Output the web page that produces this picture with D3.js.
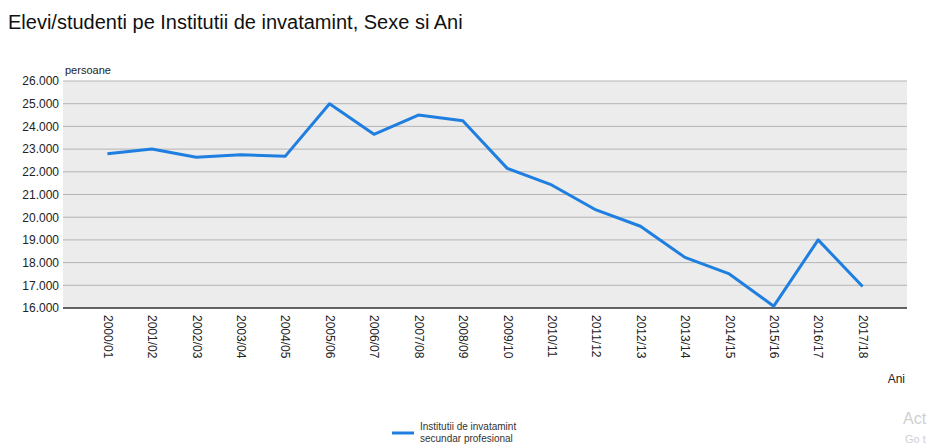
<!DOCTYPE html>
<html>
<head>
<meta charset="utf-8">
<script src="https://cdn.jsdelivr.net/npm/d3@7"></script>
<style>
  body { margin: 0; background: #fff; }
  svg { font-family: "Liberation Sans", Arial, sans-serif; }
</style>
</head>
<body>
<svg width="931" height="448"></svg>
<script>
var years = ["2000/01","2001/02","2002/03","2003/04","2004/05","2005/06","2006/07","2007/08","2008/09",
             "2009/10","2010/11","2011/12","2012/13","2013/14","2014/15","2015/16","2016/17","2017/18"];
var elevi = [22800, 23000, 22640, 22750, 22680, 25000, 23650, 24500, 24250,
             22150, 21420, 20320, 19600, 18230, 17500, 16080, 19000, 16950];
var yTicks = [16000,17000,18000,19000,20000,21000,22000,23000,24000,25000,26000];
var seriesName = ["Institutii de invatamint", "secundar profesional"];

var svg = d3.select("svg");
var plotLeft = 63, plotRight = 907, plotTop = 81, plotBottom = 308;

var x = d3.scalePoint().domain(years).range([plotLeft, plotRight]).padding(1);
var y = d3.scaleLinear().domain([16000, 26000]).range([plotBottom, plotTop]);
var fmt = function(d) { return d3.format(",")(d).replace(/,/g, "."); };

// title
svg.append("text").attr("x", 8).attr("y", 29)
   .style("font-size", "20px").style("fill", "#111")
   .text("Elevi/studenti pe Institutii de invatamint, Sexe si Ani");

// plot background
svg.append("rect").attr("x", plotLeft).attr("y", plotTop)
   .attr("width", plotRight - plotLeft).attr("height", plotBottom - plotTop)
   .style("fill", "#ececec");

// grid
svg.append("g").selectAll("line").data(yTicks.slice(1)).enter()
   .append("line")
     .attr("x1", plotLeft).attr("x2", plotRight)
     .attr("y1", function(d) { return y(d); }).attr("y2", function(d) { return y(d); })
     .style("stroke", "#b4b4b4").style("stroke-width", 1);

// y axis labels
var yAxis = svg.append("g").attr("transform", "translate(" + plotLeft + ",0)")
   .call(d3.axisLeft(y).tickValues(yTicks).tickFormat(fmt).tickSize(0).tickPadding(4));
yAxis.select(".domain").remove();
yAxis.selectAll("text").style("font-size", "12px").style("fill", "#222")
     .style("font-family", "'Liberation Sans', Arial, sans-serif");

svg.append("text").attr("x", 65).attr("y", 74)
   .style("font-size", "11px").style("fill", "#222").text("persoane");

// x axis
var xAxis = svg.append("g").attr("transform", "translate(0," + plotBottom + ")")
   .call(d3.axisBottom(x).tickSize(0).tickPadding(0));
xAxis.select(".domain").remove();
xAxis.selectAll("text")
     .attr("transform", "rotate(90)")
     .attr("x", 7).attr("y", 0).attr("dy", "0.35em")
     .style("text-anchor", "start")
     .style("font-size", "12px").style("fill", "#222")
     .style("font-family", "'Liberation Sans', Arial, sans-serif");

svg.append("line").attr("x1", plotLeft).attr("x2", plotRight)
   .attr("y1", plotBottom).attr("y2", plotBottom)
   .style("stroke", "#333").style("stroke-width", 1.5);

svg.append("text").attr("x", 905).attr("y", 383)
   .style("text-anchor", "end").style("font-size", "12px").style("fill", "#222")
   .text("Ani");

// line
var line = d3.line()
   .x(function(d, i) { return x(years[i]); })
   .y(function(d) { return y(d); });

svg.append("path").datum(elevi)
   .attr("d", line)
   .style("fill", "none")
   .style("stroke", "#1f7fe0")
   .style("stroke-width", 3)
   .style("stroke-linejoin", "round");

// legend
svg.append("line").attr("x1", 392).attr("x2", 414).attr("y1", 433).attr("y2", 433)
   .style("stroke", "#1f7fe0").style("stroke-width", 3);
svg.selectAll(".leg").data(seriesName).enter()
   .append("text").attr("class", "leg")
     .attr("x", 420).attr("y", function(d, i) { return 430 + i * 12; })
     .style("font-size", "10px").style("fill", "#333")
     .text(function(d) { return d; });

// faint watermark at the right edge
svg.append("text").attr("x", 903).attr("y", 424).style("font-size", "16px").style("fill", "#d0d0d0").text("Act");
svg.append("text").attr("x", 905).attr("y", 443).style("font-size", "11px").style("fill", "#d0d0d0").text("Go t");
</script>
</body>
</html>
